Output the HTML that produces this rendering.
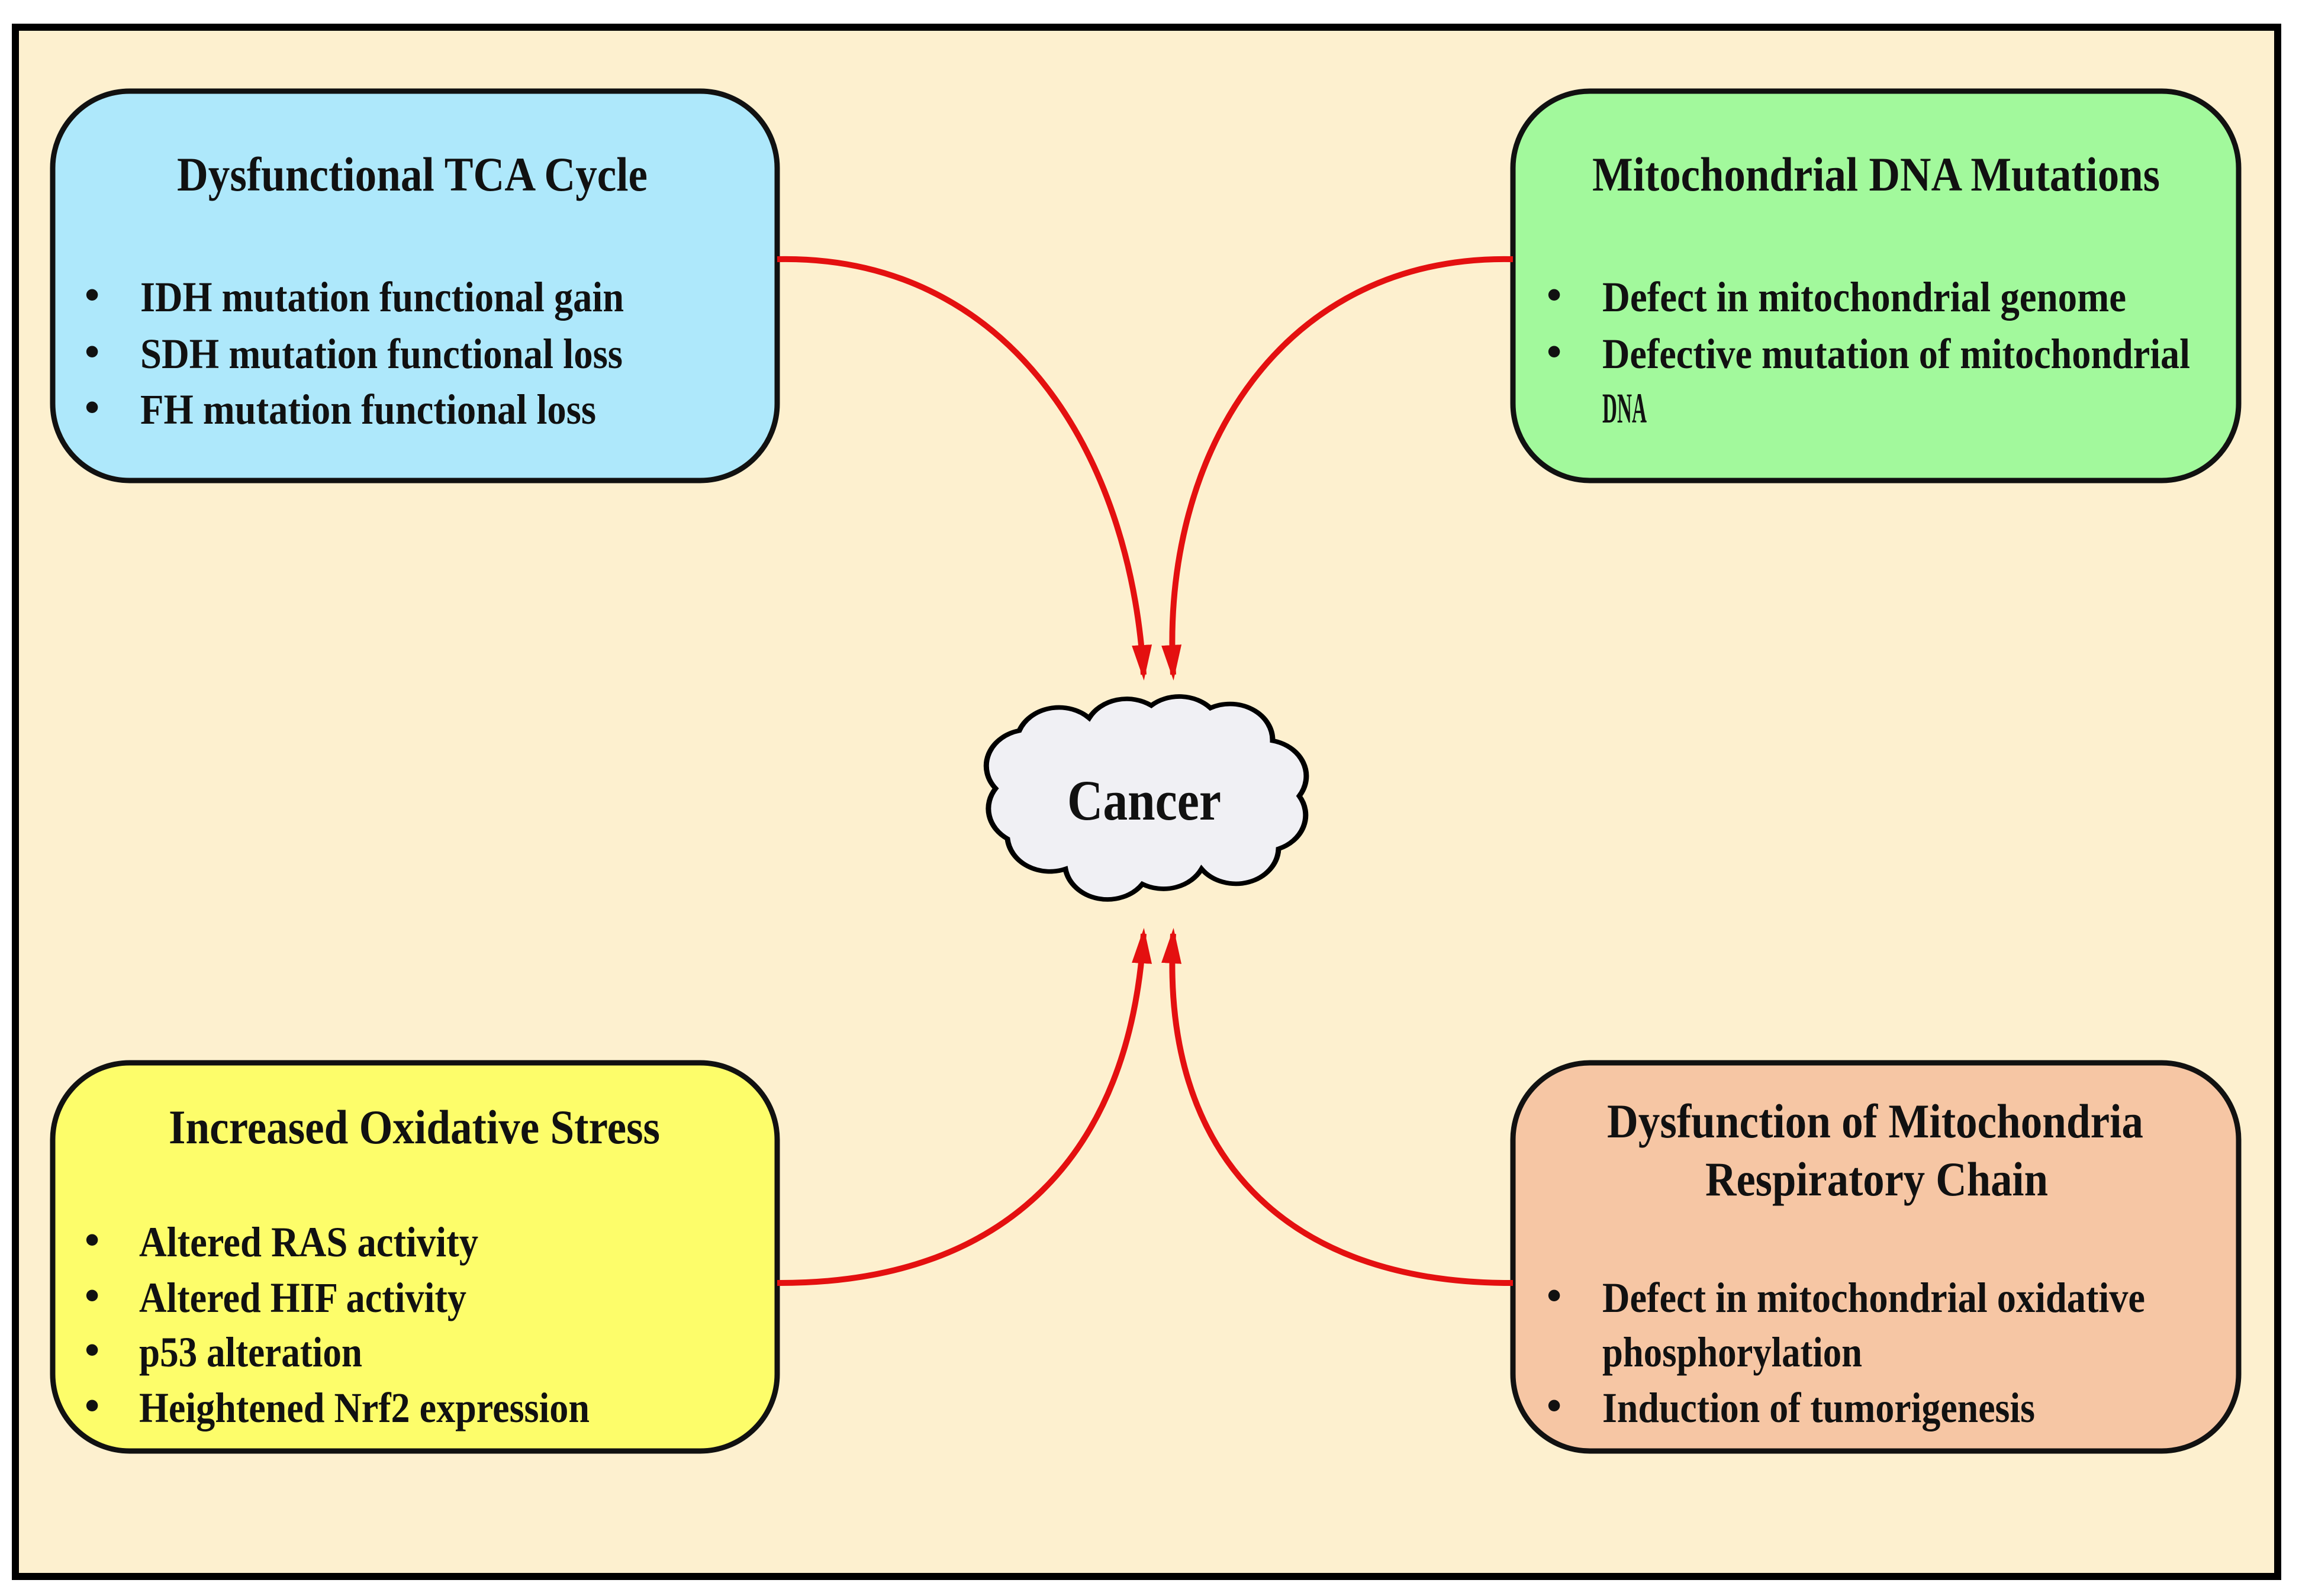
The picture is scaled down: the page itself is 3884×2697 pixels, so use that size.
<!DOCTYPE html>
<html><head><meta charset="utf-8"><style>
html,body{margin:0;padding:0;background:#fff;}
svg{display:block;}
text{font-family:"Liberation Serif",serif;font-weight:bold;fill:#111;}
</style></head><body>
<svg width="3884" height="2697" viewBox="0 0 3884 2697" xmlns="http://www.w3.org/2000/svg">
<defs>
<marker id="ah" markerWidth="6" markerHeight="4" refX="5" refY="2" orient="auto" markerUnits="strokeWidth">
<path d="M0,0.3 L6,2 L0,3.7 Z" fill="#e41010"/>
</marker>
</defs>
<rect x="0" y="0" width="3884" height="2697" fill="#fff"/>
<rect x="26" y="46" width="3822" height="2618" fill="#fdf0cf" stroke="#000" stroke-width="12"/>

<rect x="89" y="154" width="1224" height="658" rx="130" fill="#aee8fb" stroke="#111" stroke-width="9"/>
<rect x="2556" y="154" width="1226" height="658" rx="130" fill="#a2f99c" stroke="#111" stroke-width="9"/>
<rect x="89" y="1796" width="1224" height="656" rx="130" fill="#fdfd6a" stroke="#111" stroke-width="9"/>
<rect x="2556" y="1796" width="1226" height="656" rx="130" fill="#f6c6a4" stroke="#111" stroke-width="9"/>

<g fill="none" stroke="#e41010" stroke-width="10">
<path d="M1313,438 C1700,430 1910,760 1932,1140" marker-end="url(#ah)"/>
<path d="M2556,438 C2170,430 1960,760 1982,1140" marker-end="url(#ah)"/>
<path d="M1313,2168 C1700,2170 1910,1950 1932,1578" marker-end="url(#ah)"/>
<path d="M2556,2168 C2170,2170 1960,1950 1982,1578" marker-end="url(#ah)"/>
</g>

<g transform="translate(0,1346) scale(1,0.85) translate(0,-1346)">
<path d="M1682,1330 A72,72 0 0 1 1722,1215 A72,72 0 0 1 1840,1190 A72,72 0 0 1 1945,1165 A72,72 0 0 1 2045,1170 A72,72 0 0 1 2150,1235 A72,72 0 0 1 2195,1345 A72,72 0 0 1 2160,1450 A72,72 0 0 1 2030,1490 A72,72 0 0 1 1930,1520 A72,72 0 0 1 1800,1490 A72,72 0 0 1 1702,1430 A72,72 0 0 1 1682,1330 Z" fill="#f0f0f4" stroke="#000" stroke-width="9"/>
</g>
<text x="1803" y="1385" font-size="96" textLength="260" lengthAdjust="spacingAndGlyphs">Cancer</text>

<text x="299" y="322" font-size="82" textLength="795" lengthAdjust="spacingAndGlyphs">Dysfunctional TCA Cycle</text>
<g font-size="72">
<text x="143" y="522">•</text><text x="237" y="526" textLength="817" lengthAdjust="spacingAndGlyphs">IDH mutation functional gain</text>
<text x="143" y="618">•</text><text x="237" y="622" textLength="815" lengthAdjust="spacingAndGlyphs">SDH mutation functional loss</text>
<text x="143" y="712">•</text><text x="237" y="716" textLength="770" lengthAdjust="spacingAndGlyphs">FH mutation functional loss</text>
</g>

<text x="2690" y="322" font-size="82" textLength="959" lengthAdjust="spacingAndGlyphs">Mitochondrial DNA Mutations</text>
<g font-size="72">
<text x="2613" y="522">•</text><text x="2707" y="526" textLength="885" lengthAdjust="spacingAndGlyphs">Defect in mitochondrial genome</text>
<text x="2613" y="618">•</text><text x="2707" y="622" textLength="993" lengthAdjust="spacingAndGlyphs">Defective mutation of mitochondrial</text>
<text x="2707" y="714" textLength="75" lengthAdjust="spacingAndGlyphs">DNA</text>
</g>

<text x="285" y="1932" font-size="82" textLength="830" lengthAdjust="spacingAndGlyphs">Increased Oxidative Stress</text>
<g font-size="72">
<text x="143" y="2119">•</text><text x="235" y="2123" textLength="573" lengthAdjust="spacingAndGlyphs">Altered RAS activity</text>
<text x="143" y="2213">•</text><text x="235" y="2217" textLength="553" lengthAdjust="spacingAndGlyphs">Altered HIF activity</text>
<text x="143" y="2305">•</text><text x="235" y="2309" textLength="377" lengthAdjust="spacingAndGlyphs">p53 alteration</text>
<text x="143" y="2399">•</text><text x="235" y="2403" textLength="761" lengthAdjust="spacingAndGlyphs">Heightened Nrf2 expression</text>
</g>

<text x="2715" y="1922" font-size="82" textLength="906" lengthAdjust="spacingAndGlyphs">Dysfunction of Mitochondria</text>
<text x="2881" y="2020" font-size="82" textLength="579" lengthAdjust="spacingAndGlyphs">Respiratory Chain</text>
<g font-size="72">
<text x="2613" y="2213">•</text><text x="2707" y="2217" textLength="917" lengthAdjust="spacingAndGlyphs">Defect in mitochondrial oxidative</text>
<text x="2707" y="2309" textLength="439" lengthAdjust="spacingAndGlyphs">phosphorylation</text>
<text x="2613" y="2399">•</text><text x="2707" y="2403" textLength="731" lengthAdjust="spacingAndGlyphs">Induction of tumorigenesis</text>
</g>
</svg>
</body></html>
